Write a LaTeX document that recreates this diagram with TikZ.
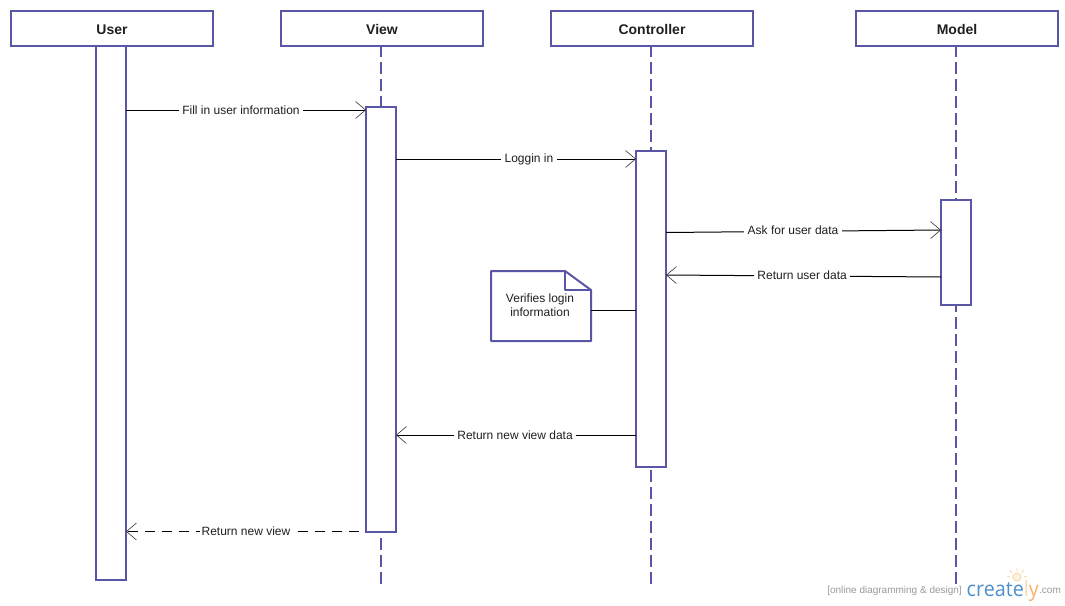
\documentclass[tikz,border=0pt]{standalone}
\usepackage{fontspec}
\setmainfont{Liberation Sans}
\newfontfamily\logofont{Open Sans}
\usetikzlibrary{arrows.meta,calc}
\definecolor{umlpurple}{HTML}{5A56A6}
\definecolor{logoblue}{HTML}{4F8FCB}
\definecolor{logoorange}{HTML}{F5B26B}
\definecolor{logoyellow}{HTML}{F8D9A8}
\definecolor{logogray}{HTML}{999999}
\tikzset{
  x=1pt,y=-1pt,
  every node/.style={font=\fontsize{12}{14}\selectfont,text=black!88},
  head/.style={draw=umlpurple,line width=2pt,fill=white,minimum width=202pt,minimum height=35pt,inner sep=0pt,outer sep=0pt,text height=10pt,text depth=0pt,font=\fontsize{14}{16}\selectfont\bfseries},
  activation/.style={draw=umlpurple,line width=2pt,fill=white,minimum width=30pt,inner sep=0pt,outer sep=0pt},
  lifeline/.style={draw=umlpurple,line width=2pt,dash pattern=on 12pt off 5pt,dash phase=1pt},
  msg/.style={line width=1pt,black,-{Straight Barb[length=10pt,width=17pt,line width=.6pt,black!80]}},
  msgdash/.style={msg,dash pattern=on 10pt off 7pt,dash phase=10pt},
  msglabel/.style={fill=white,inner xsep=3.5pt,inner ysep=1pt},
  tiny/.style={font=\fontsize{10}{12}\selectfont,text=logogray,inner sep=0pt}
}
\begin{document}
\begin{tikzpicture}
\useasboundingbox (0,0) rectangle (1065,605);
\node[head] (user) at (112,28.5) {\raisebox{-1pt}{User}};
\node[head] (view) at (382,28.5) {\raisebox{-1pt}{View}};
\node[head] (ctrl) at (652,28.5) {\raisebox{-1pt}{Controller}};
\node[head] (model) at (957,28.5) {\raisebox{-1pt}{Model}};
\coordinate (vend) at (381,584);
\coordinate (cend) at (651,584);
\coordinate (mend) at (956,584);
\draw[lifeline] (vend |- view.south) -- (vend);
\draw[lifeline] (cend |- ctrl.south) -- (cend);
\draw[lifeline] (mend |- model.south) -- (mend);
\node[activation,minimum height=534pt] (uact) at (111,313) {};
\node[activation,minimum height=425pt] (vact) at (381,319.5) {};
\node[activation,minimum height=316pt] (cact) at (651,309) {};
\node[activation,minimum height=105pt] (mact) at (956,252.5) {};
\node[minimum width=100pt,minimum height=70pt,inner sep=0pt,outer sep=0pt,align=center] (note) at (541,306) {};
\draw[umlpurple,line width=2pt,line join=round,fill=white]
  (note.north west) -- ($(note.north west)+(74,0)$) -- ($(note.north east)+(0,19)$) -- (note.south east) -- (note.south west) -- cycle;
\draw[umlpurple,line width=2pt,line join=round]
  ($(note.north west)+(74,0)$) -- ($(note.north west)+(74,19)$) -- ($(note.north east)+(0,19)$);
\node[align=center,inner sep=0pt] (notetext) at (540,305) {Verifies login\\information};
\draw[msg] (uact.east |- 0,110) -- node[msglabel,pos=.479] (l1) {Fill in user information} (vact.west |- 0,110);
\draw[msg] (vact.east |- 0,159) -- node[msglabel,pos=.554,yshift=-.7pt] (l2) {Loggin in} (cact.west |- 0,159);
\draw[msg] (cact.east |- 0,232.5) -- node[msglabel,pos=.462,yshift=.7pt] (l3) {Ask for user data} (mact.west |- 0,230);
\draw[msg] (mact.west |- 0,277) -- node[msglabel,pos=.505,yshift=1pt] (l4) {Return user data} (cact.east |- 0,275);
\draw[line width=1pt,black] (note.east |- 0,310) -- (cact.west |- 0,310);
\draw[msg] (cact.west |- 0,435) -- node[msglabel,pos=.504] (l5) {Return new view data} (vact.east |- 0,435);
\draw[msgdash] (vact.west |- 0,531.5) -- node[msglabel,pos=.5,inner xsep=2pt] (l6) {Return new view\hspace{4pt}} (uact.east |- 0,531.5);
\node[tiny,anchor=base east] (wm1) at (962,593) {[online diagramming \& design]};
\fill[logoyellow!35] (1017,577) circle[radius=4pt];
\draw[logoyellow,line width=.9pt] (1017,577) circle[radius=4pt];
\draw[logoyellow,line width=.9pt] (1017,568) -- (1017,571) (1010,570) -- (1012,573) (1024,570) -- (1022,573) (1007,576) -- (1010,577) (1027,576) -- (1024,577);
\node[inner sep=0pt,anchor=base west,font=\logofont\fontsize{21}{23}\selectfont,text=logoblue] (wm2) at (966.5,596) {\scalebox{.94}[1]{create\textcolor{logoyellow}{l}\textcolor{logoorange}{y}}};
\node[tiny,anchor=base west] (wm3) at (1039,593) {.com};
\end{tikzpicture}
\end{document}
